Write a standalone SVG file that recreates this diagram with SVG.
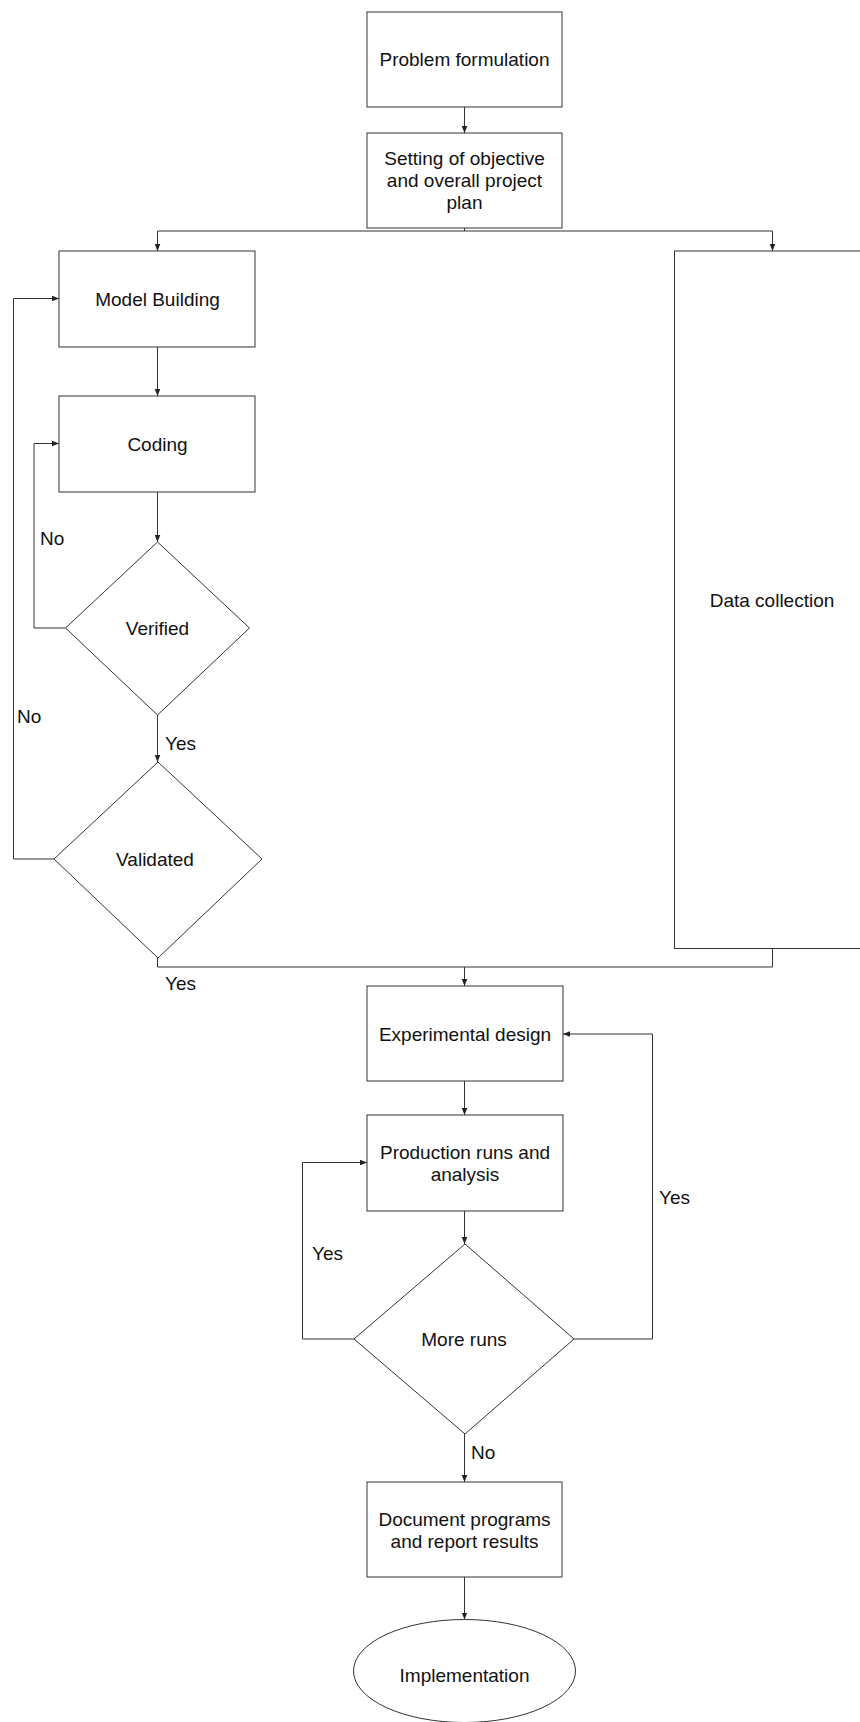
<svg xmlns="http://www.w3.org/2000/svg" width="860" height="1722" viewBox="0 0 860 1722">
<style>
.box{fill:#fff;stroke:#333;stroke-width:1}
.t{font-family:"Liberation Sans",Arial,Helvetica,sans-serif;font-size:19px;fill:#111;text-anchor:middle}
.l{font-family:"Liberation Sans",Arial,Helvetica,sans-serif;font-size:19px;fill:#111}
.c{fill:none;stroke:#333;stroke-width:1}
</style>
<defs>
<marker id="ah" markerWidth="8" markerHeight="8" refX="7" refY="4" orient="auto" markerUnits="userSpaceOnUse">
<path d="M0,1.2 L7,4 L0,6.8 Z" fill="#222"/>
</marker>
</defs>
<rect width="860" height="1722" fill="#fff"/>
<g id="connectors">
<path class="c" d="M464.5,107 V133" marker-end="url(#ah)"/>
<path class="c" d="M464.5,228 V231"/>
<path class="c" d="M157.5,231 H772.5"/>
<path class="c" d="M157.5,231 V251" marker-end="url(#ah)"/>
<path class="c" d="M772.5,231 V251" marker-end="url(#ah)"/>
<path class="c" d="M157.5,347 V396" marker-end="url(#ah)"/>
<path class="c" d="M157.5,492 V542" marker-end="url(#ah)"/>
<path class="c" d="M65.5,628 H34 V443.5 H59" marker-end="url(#ah)"/>
<path class="c" d="M157.5,715 V762" marker-end="url(#ah)"/>
<path class="c" d="M54,859 H13.5 V298.5 H59" marker-end="url(#ah)"/>
<path class="c" d="M157.5,958 V967 H772.5 V948.5"/>
<path class="c" d="M464.5,967 V986" marker-end="url(#ah)"/>
<path class="c" d="M464.5,1081 V1115" marker-end="url(#ah)"/>
<path class="c" d="M464.5,1211 V1244" marker-end="url(#ah)"/>
<path class="c" d="M354,1339 H302.5 V1162.5 H367" marker-end="url(#ah)"/>
<path class="c" d="M574,1339 H652.5 V1034 H563" marker-end="url(#ah)"/>
<path class="c" d="M464.5,1434 V1482" marker-end="url(#ah)"/>
<path class="c" d="M464.5,1577 V1619.5" marker-end="url(#ah)"/>
<text class="l" x="40" y="545">No</text>
<text class="l" x="17" y="723">No</text>
<text class="l" x="165" y="749.5">Yes</text>
<text class="l" x="165" y="989.5">Yes</text>
<text class="l" x="312" y="1260">Yes</text>
<text class="l" x="659" y="1203.5">Yes</text>
<text class="l" x="471" y="1458.5">No</text>
</g>
<g id="problem">
<rect class="box" x="367" y="12" width="195" height="95"/>
<text class="t" x="464.5" y="66">Problem formulation</text>
</g>
<g id="setting">
<rect class="box" x="367" y="133" width="195" height="95"/>
<text class="t" x="464.5" y="165">Setting of objective</text>
<text class="t" x="464.5" y="187">and overall project</text>
<text class="t" x="464.5" y="209">plan</text>
</g>
<g id="model">
<rect class="box" x="59" y="251" width="196" height="96"/>
<text class="t" x="157.5" y="306">Model Building</text>
</g>
<g id="coding">
<rect class="box" x="59" y="396" width="196" height="96"/>
<text class="t" x="157.5" y="451">Coding</text>
</g>
<g id="verified">
<polygon class="box" points="157.5,542 249.5,628 157.5,715 65.5,628"/>
<text class="t" x="157.5" y="635">Verified</text>
</g>
<g id="validated">
<polygon class="box" points="158,762 262,859 158,958 54,859"/>
<text class="t" x="155" y="866">Validated</text>
</g>
<g id="data">
<rect class="box" x="674.5" y="251" width="195" height="697.5"/>
<text class="t" x="772" y="607">Data collection</text>
</g>
<g id="experimental">
<rect class="box" x="367" y="986" width="196" height="95"/>
<text class="t" x="465" y="1041">Experimental design</text>
</g>
<g id="production">
<rect class="box" x="367" y="1115" width="196" height="96"/>
<text class="t" x="465" y="1159">Production runs and</text>
<text class="t" x="465" y="1181">analysis</text>
</g>
<g id="moreruns">
<polygon class="box" points="465,1244 574,1339 465,1434 354,1339"/>
<text class="t" x="464" y="1346">More runs</text>
</g>
<g id="document">
<rect class="box" x="367" y="1482" width="195" height="95"/>
<text class="t" x="464.5" y="1526">Document programs</text>
<text class="t" x="464.5" y="1548">and report results</text>
</g>
<g id="implementation">
<ellipse class="box" cx="464.5" cy="1671" rx="111" ry="51.5"/>
<text class="t" x="464.5" y="1682">Implementation</text>
</g>
</svg>
